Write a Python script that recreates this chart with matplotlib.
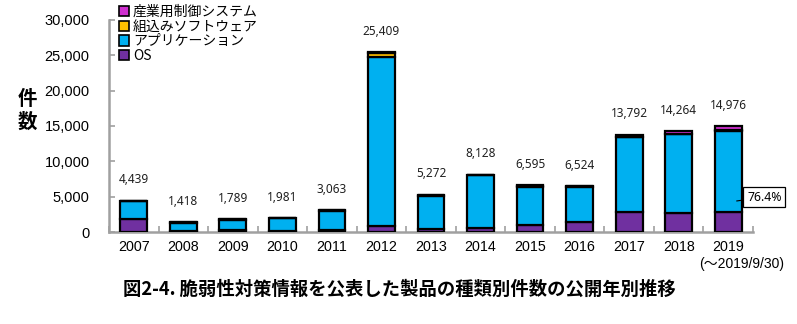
import matplotlib
matplotlib.use("Agg")
import matplotlib.pyplot as plt
from matplotlib import font_manager
from matplotlib.patches import Patch
import numpy as np

years = ["2007", "2008", "2009", "2010", "2011", "2012", "2013",
         "2014", "2015", "2016", "2017", "2018", "2019"]
totals = [4439, 1418, 1789, 1981, 3063, 25409, 5272,
          8128, 6595, 6524, 13792, 14264, 14976]
os_counts = [1800, 150, 300, 150, 350, 900, 480, 500, 1000, 1450, 2870, 2640, 2870]
app_counts = [2529, 1178, 1399, 1761, 2603, 23889, 4622, 7508, 5415, 4924, 10572, 11174, 11442]
embedded_counts = [100, 80, 80, 60, 100, 600, 150, 100, 150, 120, 50, 50, 110]
industrial_counts = [10, 10, 10, 10, 10, 20, 20, 20, 30, 30, 300, 400, 554]

series_names = ["OS", "アプリケーション", "組込みソフトウェア", "産業用制御システム"]
series_colors = ["#7030A0", "#00B0F0", "#FFC000", "#D030D0"]

title = "図2-4. 脆弱性対策情報を公表した製品の種類別件数の公開年別推移"
ylabel_chars = ["件", "数"]
period_note = "(～2019/9/30)"
yticks = [0, 5000, 10000, 15000, 20000, 25000, 30000]

available = {f.name for f in font_manager.fontManager.ttflist}
narrow = "Liberation Sans Narrow" if "Liberation Sans Narrow" in available else "Liberation Sans"
cjk = "Noto Sans CJK JP"

fig = plt.figure(figsize=(7.97, 3.24), dpi=100)
ax = fig.add_axes([109 / 797, 1 - 232 / 324, (753 - 109) / 797, (232 - 20) / 324])

x = np.arange(len(years))
bottom = np.zeros(len(years))
for vals, color in zip([os_counts, app_counts, embedded_counts, industrial_counts], series_colors):
    ax.bar(x, vals, width=0.54, bottom=bottom, color=color,
           edgecolor="black", linewidth=1.6, zorder=3)
    bottom += np.array(vals)

# total labels above each bar
for xi, t in zip(x, totals):
    ax.annotate(f"{t:,}", (xi, t), xytext=(0, 15), textcoords="offset points",
                ha="center", va="center", fontsize=8.5, family="Noto Sans",
                color="#202020")

# share of applications in the latest year
share = app_counts[-1] / totals[-1] * 100
ax.annotate(f"{share:.1f}%", xy=(12.17, 4390), xytext=(12.73, 4950),
            textcoords="data", ha="center", va="center", fontsize=8.8,
            family="Noto Sans", annotation_clip=False,
            bbox=dict(boxstyle="square,pad=0.3", fc="white", ec="black", lw=0.9),
            arrowprops=dict(arrowstyle="-", color="black", lw=0.8,
                            shrinkA=0, shrinkB=0), zorder=5)

ax.set_xlim(-0.5, len(years) - 0.5)
ax.set_ylim(0, 30000)
ax.set_yticks(yticks)
ax.set_yticklabels([f"{v:,}" for v in yticks], family="Liberation Sans", fontsize=10.5)
ax.set_xticks(x)
ax.set_xticklabels(years, family=narrow, fontsize=10.3)
ax.set_xticks(np.arange(-0.5, len(years)), minor=True)
ax.tick_params(axis="x", which="major", length=0, pad=6)
ax.tick_params(axis="x", which="minor", direction="in", length=4, color="#A0A0A0", width=1.2)
ax.tick_params(axis="y", direction="in", length=4, color="#A0A0A0", width=1.2, pad=14)

for side in ["top", "right"]:
    ax.spines[side].set_visible(False)
for side in ["left", "bottom"]:
    ax.spines[side].set_color("#A0A0A0")
    ax.spines[side].set_linewidth(1.8)

ax.text(12.28, -0.153, period_note, transform=ax.get_xaxis_transform(),
        ha="center", va="center", fontsize=10, family=[narrow, cjk])

# legend (top series first)
handles = [Patch(facecolor=c, edgecolor="black", linewidth=1.2)
           for c in series_colors[::-1]]
fig.legend(handles, series_names[::-1], loc="upper left",
           bbox_to_anchor=(119 / 797, 1 - 5 / 324), frameon=False,
           prop={"family": [cjk, "DejaVu Sans"], "size": 10},
           handlelength=0.75, handleheight=0.75, handletextpad=0.25,
           labelspacing=0.05, borderpad=0, borderaxespad=0)

for ch, yp in zip(ylabel_chars, [99, 122]):
    fig.text(27 / 797, 1 - yp / 324, ch, ha="center", va="center",
             fontsize=14, fontweight="bold", family=cjk)

fig.text(123 / 797, 1 - 289 / 324, title, ha="left", va="center",
         fontsize=13.2, fontweight="bold", family=[cjk, "DejaVu Sans"])

fig.savefig("out.png", dpi=100)
